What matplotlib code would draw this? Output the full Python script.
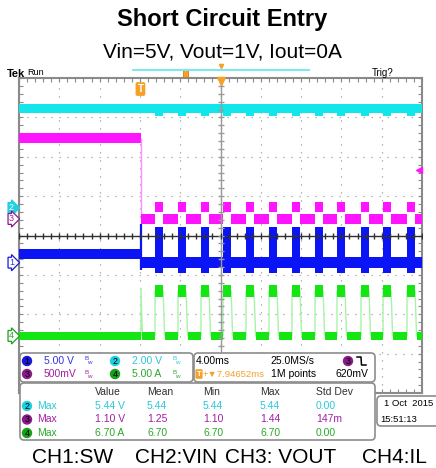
import numpy as np
import matplotlib
matplotlib.use("Agg")
import matplotlib.pyplot as plt
from matplotlib.patches import FancyBboxPatch, Circle, Rectangle
from matplotlib.ticker import FixedLocator

# scope settings
ms_per_div = 4.0
delay_ms = 7.94652
ch_scale = {1: 5.0, 2: 2.0, 3: 0.5, 4: 5.0}       # V/div, A/div for ch4
ch_ground = {1: 3.31, 2: 4.70, 3: 4.42, 4: 1.45}  # divisions from bottom
trig_level = 0.62                                 # V on ch3

# waveform readings, time in ms from trigger
t_short = 0.05
pulse_t = [1.45, 3.73, 6.01, 8.20, 10.48, 12.76, 15.04, 17.33, 19.51, 21.89, 24.08, 26.46]
pulse_w = 0.80
il_fall = 0.15
vin = 5.05
vin_dip = 4.90
vout_before = 1.03
vout_low = 0.0
vout_high = 0.15
sw_before = 1.1
sw_low = 0.0
sw_burst = (-1.3, 4.5)
sw_spike = (-0.9, 4.95)
il_low = 0.0
il_peak = 5.7
il_spike = 6.05

# on-screen readouts
scale_txt = ['5.00 V', '2.00 V', '500mV', '5.00 A']
meas_ch = [2, 3, 4]
meas_value = ['5.44 V', '1.10 V', '6.70 A']
meas_mean = ['5.44', '1.25', '6.70']
meas_min = ['5.44', '1.10', '6.70']
meas_max = ['5.44', '1.44', '6.70']
meas_std = ['0.00', '147m', '0.00']
meas_head = ['Value', 'Mean', 'Min', 'Max', 'Std Dev']
bottom_labels = ['CH1:SW', 'CH2:VIN', 'CH3: VOUT', 'CH4:IL']

trace_c = {1: '#0a14f5', 2: '#12e6ea', 3: '#ff14ff', 4: '#14e614'}
edge_c = {1: '#6a6aff', 3: '#ff90ff', 4: '#a8f3a8'}
text_c = {1: '#3434e0', 2: '#2cc8d8', 3: '#a020a0', 4: '#2aa82a'}
dot_c = {1: '#1818d8', 2: '#20d0e0', 3: '#8a1a8a', 4: '#18a018'}
orange = '#f5a028'
SC = ['Liberation Sans', 'DejaVu Sans']
fs = 7.5


def to_div(ch, v):
    return ch_ground[ch] + np.asarray(v, dtype=float) / ch_scale[ch]


def band(ax, t0, t1, y, half, color, z=3):
    ax.fill_between([t0, t1], [y - half] * 2, [y + half] * 2, color=color, lw=0, zorder=z)


t_left = delay_ms - 5 * ms_per_div
t_right = delay_ms + 5 * ms_per_div

fig = plt.figure(figsize=(4.36, 4.68), dpi=100)
ax = fig.add_axes([19 / 436, 75 / 468, 403 / 436, 315 / 468])
ax.set_xlim(t_left, t_right)
ax.set_ylim(0, 8)

ax.xaxis.set_major_locator(FixedLocator(t_left + ms_per_div * np.arange(11)))
ax.xaxis.set_minor_locator(FixedLocator(t_left + ms_per_div / 5 * np.arange(51)))
ax.yaxis.set_major_locator(FixedLocator(np.arange(9)))
ax.yaxis.set_minor_locator(FixedLocator(np.arange(41) / 5))
ax.tick_params(which='both', direction='in', length=3, width=0.8, color='#8a8a8a',
               top=True, right=True, labelbottom=False, labelleft=False)
ax.set_axisbelow(True)
ax.grid(which='major', color='#a0a0a0', lw=0.9, ls=(0, (1, 5.4)))
for s in ax.spines.values():
    s.set_color('#8a8a8a')
    s.set_linewidth(1.5)

# segments between the current pulses after the short
seg_start = [t_short] + [p + pulse_w for p in pulse_t]
seg_end = pulse_t + [t_right]

# CH2 VIN
y2 = to_div(2, vin)
band(ax, t_left, t_right, y2, 0.11, trace_c[2])
ax.bar(pulse_t, to_div(2, vin) - to_div(2, vin_dip), bottom=to_div(2, vin_dip) - 0.11,
       width=pulse_w, align='edge', color=trace_c[2], lw=0, zorder=3)

# CH3 VOUT
band(ax, t_left, t_short, to_div(3, vout_before), 0.12, trace_c[3])
ax.vlines(t_short, to_div(3, vout_low), to_div(3, vout_before), color=edge_c[3], lw=1, zorder=3)
for a, b in zip(seg_start, seg_end):
    band(ax, a, b, to_div(3, vout_low), 0.12, trace_c[3])
ax.bar(pulse_t, 0.26, bottom=to_div(3, vout_high) - 0.13, width=pulse_w, align='edge',
       color=trace_c[3], lw=0, zorder=3)

# CH1 SW
band(ax, t_left, t_short, to_div(1, sw_before), 0.13, trace_c[1])
ax.vlines(t_short, to_div(1, sw_spike[0]), to_div(1, sw_spike[1]), color=trace_c[1], lw=1.6, zorder=3)
for a, b in zip(seg_start, seg_end):
    band(ax, a, b, to_div(1, sw_low), 0.14, trace_c[1])
ax.bar(pulse_t, to_div(1, sw_burst[1]) - to_div(1, sw_burst[0]), bottom=to_div(1, sw_burst[0]),
       width=pulse_w, align='edge', color=trace_c[1], lw=0, zorder=3)

# CH4 IL
tx = [t_left, t_short, t_short, t_short + il_fall]
ty = [il_low, il_low, il_spike, il_low]
for p in pulse_t:
    tx += [p, p, p + pulse_w, p + pulse_w + il_fall]
    ty += [il_low, il_peak, il_peak, il_low]
tx.append(t_right)
ty.append(il_low)
ax.plot(tx, to_div(4, ty), color=edge_c[4], lw=1.0, zorder=3)
band(ax, t_left, t_short, to_div(4, il_low), 0.11, trace_c[4])
for a, b in zip([t_short + il_fall] + [p + pulse_w + il_fall for p in pulse_t], seg_end):
    band(ax, a, b, to_div(4, il_low), 0.11, trace_c[4])
ax.bar(pulse_t, 0.30, bottom=to_div(4, il_peak) - 0.15, width=pulse_w, align='edge',
       color=trace_c[4], lw=0, zorder=3)

# graticule centre lines
ax.axhline(4, color='#303030', lw=1.0, zorder=6)
ax.axvline(delay_ms, color='#9a9a9a', lw=1.0, zorder=6)
ax.plot([delay_ms] * 41, np.arange(41) / 5, ls='none', marker='_', ms=4, color='#9a9a9a', zorder=6)
ax.plot(t_left + ms_per_div / 5 * np.arange(51), [4] * 51, ls='none', marker='|', ms=4,
        color='#303030', zorder=6)

# channel ground markers
for ch in [2, 3, 1, 4]:
    filled = ch == 2
    ax.text(t_left - 0.75, ch_ground[ch], str(ch), ha='center', va='center', fontsize=6.5,
            family=SC, color='white' if filled else text_c[ch], clip_on=False, zorder=8,
            bbox=dict(boxstyle='rarrow,pad=0.1', fc=dot_c[ch] if filled else 'white',
                      ec=dot_c[ch], lw=0.9))

# trigger level on ch3, trigger position, expansion point
ax.plot(t_right - 0.25, to_div(3, trig_level), marker='<', ms=5, color=trace_c[3], clip_on=False, zorder=8)
ax.text(0, 7.72, 'T', ha='center', va='center', fontsize=7, color='white', fontweight='bold',
        family=SC, zorder=8, bbox=dict(boxstyle='round,pad=0.12', fc=orange, ec=orange))
ax.plot(delay_ms, 7.93, marker='v', ms=6, color=orange, clip_on=False, zorder=8)

# overlay in pixel coordinates for text and readout panels
ov = fig.add_axes([0, 0, 1, 1], zorder=10)
ov.set_xlim(0, 436)
ov.set_ylim(468, 0)
ov.set_axis_off()

ov.text(222, 26, 'Short Circuit Entry', ha='center', va='baseline', fontsize=17,
        fontweight='bold', family='Liberation Sans')
ov.text(222, 57, 'Vin=5V, Vout=1V, Iout=0A', ha='center', va='baseline', fontsize=15,
        family='Liberation Sans')
for x, s in zip([32, 135, 225, 362], bottom_labels):
    ov.text(x, 463, s, ha='left', va='baseline', fontsize=15, family='Liberation Sans')

ov.text(7, 77, 'Tek', fontsize=8, fontweight='bold', family=SC, va='baseline')
ov.text(27, 75, 'Run', fontsize=6.5, family=SC, va='baseline')
ov.text(372, 76, 'Trig?', fontsize=7, family=SC, va='baseline')
ov.plot([133, 309], [70, 70], color='#80e6f0', lw=1.5)
ov.add_patch(Rectangle((183, 69), 5, 8, fc=orange, ec='#c07010', lw=0.5))
ov.plot(221, 66, marker='v', ms=3, color=orange)


def panel(x, y, w, h):
    ov.add_patch(FancyBboxPatch((x, y), w, h, boxstyle='round,pad=0,rounding_size=4',
                                fc='white', ec='#8c8c8c', lw=1.2))


def dot(x, y, ch):
    ov.add_patch(Circle((x, y), 5.2, fc=dot_c[ch], ec='none'))
    ov.text(x, y + 0.5, str(ch), ha='center', va='center', fontsize=6.5, family=SC, color='black')


panel(20, 353, 173, 29)
panel(194, 353, 181, 29)
panel(20, 383, 355, 57)
panel(377, 396, 64, 30)

# channel scale block
for ch, (x, y), s in zip([1, 2, 3, 4], [(27, 361), (115, 361), (27, 374), (115, 374)], scale_txt):
    dot(x, y, ch)
    ov.text(x + 17, y, s, va='center', fontsize=fs, family=SC, color=text_c[ch])
    ov.text(x + 57, y - 2, 'B', va='center', fontsize=4.5, family=SC, color=text_c[ch])
    ov.text(x + 60, y + 2, 'w', va='center', fontsize=4.5, family=SC, color=text_c[ch])

# timebase / trigger block
ov.text(196, 361, '4.00ms', va='center', fontsize=fs, family=SC)
ov.text(270, 361, '25.0MS/s', va='center', fontsize=fs, family=SC)
dot(348, 361, 3)
ov.plot([357, 361, 361.5, 366], [357, 357, 365, 365], color='black', lw=1.1)
ov.text(199, 374, 'T', ha='center', va='center', fontsize=5.5, color='white', fontweight='bold',
        family=SC, bbox=dict(boxstyle='round,pad=0.08', fc=orange, ec=orange))
ov.text(203, 374, '+\u25bc%.5fms' % delay_ms, va='center', fontsize=6.8, family=SC, color=orange)
ov.text(271, 374, '1M points', va='center', fontsize=fs, family=SC)
ov.text(368, 374, '%dmV' % round(trig_level * 1000), ha='right', va='center', fontsize=fs, family=SC)

# measurement block
col_x = [95, 147, 203, 260, 316]
for x, s in zip(col_x, meas_head):
    ov.text(x, 392, s, va='center', fontsize=fs, family=SC, color='#303030')
for i, ch in enumerate(meas_ch):
    y = 406 + 13.5 * i
    dot(27, y, ch)
    ov.text(37, y, 'Max', va='center', fontsize=fs, family=SC, color=text_c[ch])
    row = [meas_value[i], meas_mean[i], meas_min[i], meas_max[i], meas_std[i]]
    for x, s in zip(col_x, row):
        ov.text(x, y, s, va='center', fontsize=fs, family=SC, color=text_c[ch])

ov.text(384, 403, '1 Oct  2015', va='center', fontsize=6.8, family=SC)
ov.text(380, 419, '15:51:13', va='center', fontsize=6.8, family=SC)

fig.savefig('out.png', dpi=100)
